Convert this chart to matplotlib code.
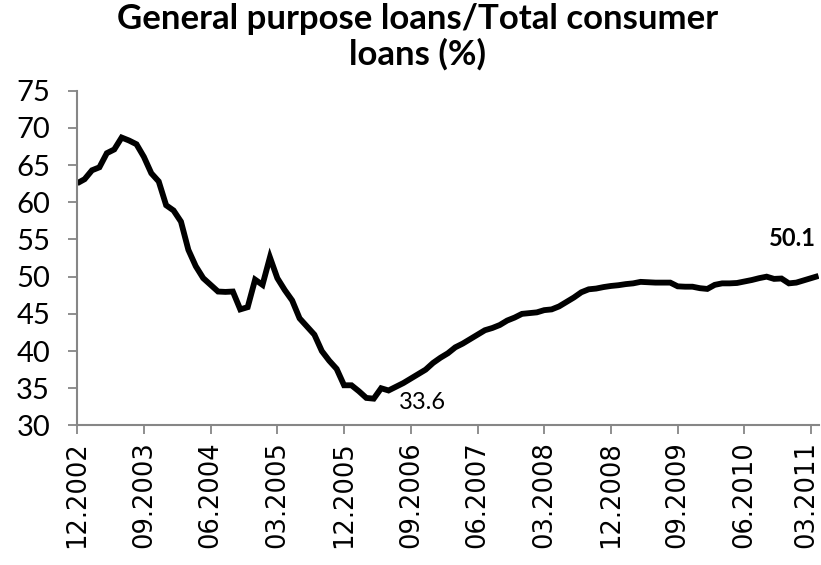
import matplotlib
matplotlib.use("Agg")
import matplotlib.pyplot as plt
import matplotlib.transforms as mtransforms
import numpy as np

# monthly share of general purpose loans, 12.2002 .. 04.2011
share = [
    62.55, 63.1, 64.3, 64.7, 66.6, 67.1, 68.7, 68.3, 67.8, 66.1,
    63.9, 62.8, 59.6, 58.9, 57.4, 53.6, 51.4, 49.8, 48.9, 48.0,
    47.95, 48.0, 45.6, 45.9, 49.6, 48.9, 52.6, 49.8, 48.2, 46.8,
    44.4, 43.3, 42.2, 40.0, 38.7, 37.6, 35.4, 35.4, 34.6, 33.7,
    33.6, 35.0, 34.7, 35.2, 35.7, 36.3, 36.9, 37.5, 38.4, 39.1,
    39.7, 40.5, 41.0, 41.6, 42.2, 42.8, 43.1, 43.5, 44.1, 44.5,
    45.0, 45.1, 45.2, 45.5, 45.6, 46.0, 46.6, 47.2, 47.9, 48.3,
    48.4, 48.6, 48.75, 48.85, 49.0, 49.1, 49.3, 49.25, 49.2, 49.2,
    49.2, 48.7, 48.65, 48.65, 48.45, 48.35, 48.9, 49.1, 49.1, 49.15,
    49.35, 49.55, 49.8, 50.0, 49.7, 49.75, 49.1, 49.2, 49.5, 49.8,
    50.1,
]
tick_labels = ["12.2002", "09.2003", "06.2004", "03.2005", "12.2005", "09.2006",
               "06.2007", "03.2008", "12.2008", "09.2009", "06.2010", "03.2011"]
min_label = "33.6"
last_label = "50.1"

x = np.arange(len(share))

fig = plt.figure(figsize=(8.21, 5.65), dpi=100)
ax = fig.add_axes([0.094, 0.247, 0.903, 0.5925])

ax.plot(x, share, color="black", lw=4.2, solid_joinstyle="miter", solid_capstyle="butt")

ax.set_xlim(0, len(share) - 1)
ax.set_ylim(30, 75)
ax.set_yticks(np.arange(30, 76, 5))
ax.set_xticks(x[::9][:len(tick_labels)])
ax.set_xticklabels(tick_labels, rotation=90, fontsize=18.5, family="DejaVu Sans")
for lbl in ax.get_yticklabels():
    lbl.set_family("Lato")
    lbl.set_fontsize(21)

for s in ["top", "right"]:
    ax.spines[s].set_visible(False)
for s in ["left", "bottom"]:
    ax.spines[s].set_color("#868686")
    ax.spines[s].set_linewidth(1.5)
ax.tick_params(axis="both", direction="out", length=6.5, width=1.3, color="#868686")
ax.tick_params(axis="y", pad=13)
ax.tick_params(axis="x", pad=5)

# last date label sits right at the figure edge, nudge it in a little
last = ax.get_xticklabels()[-1]
last.set_transform(last.get_transform() +
                   mtransforms.ScaledTranslation(-5 / 100, 0, fig.dpi_scale_trans))

# data labels for the minimum and the last value
imin = int(np.argmin(share))
ax.annotate(min_label, (x[imin], share[imin]), xytext=(18, -3), textcoords="offset points",
            ha="left", va="center", fontsize=17, family="Lato")
ax.annotate(last_label, (x[-1], share[-1]), xytext=(-2, 27), textcoords="offset points",
            ha="right", va="center", fontsize=17, family="Lato", fontweight="bold")

fig.suptitle("General purpose loans/Total consumer\nloans (%)", x=0.509, y=0.995,
             fontsize=25, fontweight="bold", family="Lato", linespacing=1.1)

fig.savefig("out.png", dpi=100)
